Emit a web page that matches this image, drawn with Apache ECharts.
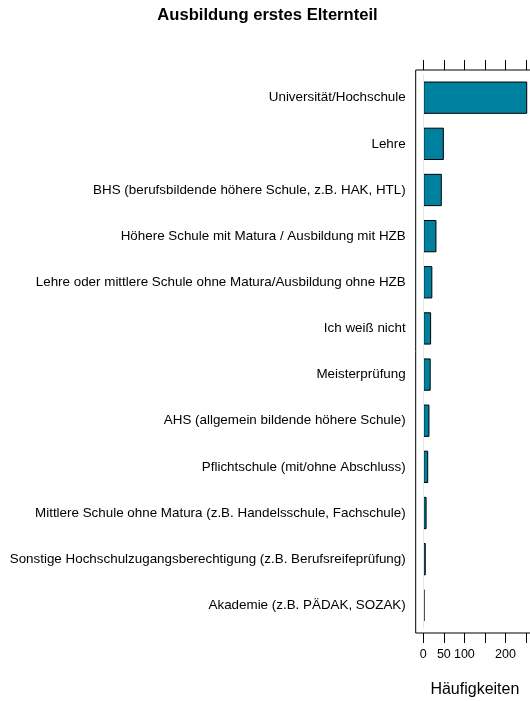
<!DOCTYPE html>
<html>
<head>
<meta charset="utf-8">
<script src="https://cdn.jsdelivr.net/npm/echarts@6/dist/echarts.min.js"></script>
<style>
  html, body { margin: 0; padding: 0; background: #fff; }
  #chart { width: 530px; height: 701px; }
</style>
</head>
<body>
<div id="chart"></div>
<script>
// Categories, top to bottom
const categories = [
  'Universität/Hochschule',
  'Lehre',
  'BHS (berufsbildende höhere Schule, z.B. HAK, HTL)',
  'Höhere Schule mit Matura / Ausbildung mit HZB',
  'Lehre oder mittlere Schule ohne Matura/Ausbildung ohne HZB',
  'Ich weiß nicht',
  'Meisterprüfung',
  'AHS (allgemein bildende höhere Schule)',
  'Pflichtschule (mit/ohne Abschluss)',
  'Mittlere Schule ohne Matura (z.B. Handelsschule, Fachschule)',
  'Sonstige Hochschulzugangsberechtigung (z.B. Berufsreifeprüfung)',
  'Akademie (z.B. PÄDAK, SOZAK)'
];
// Frequencies per category
const counts = [253, 50, 45, 32, 22, 19, 18, 15, 12, 8, 6, 3];
// Axis ticks and labelled ticks
const tickValues = [0, 50, 100, 150, 200, 250];
const tickLabels = [0, 50, 100, 200];

const FONT = '"Liberation Sans", Arial, Helvetica, sans-serif';

// Panel frame
const panelLeft = 415.7, panelTop = 70, panelBottom = 633, panelRight = 534;
const xMin = -18.5, xMax = 269.5;
// Category bands padded by 0.1 band on each end
const band = (panelBottom - panelTop) / (categories.length + 0.2);
const gridTop = panelTop + 0.1 * band;
const gridHeight = categories.length * band;
const pad = 0.1 * band;

const chart = echarts.init(document.getElementById('chart'), null, { renderer: 'canvas' });

chart.setOption({
  animation: false,
  backgroundColor: '#ffffff',
  textStyle: { fontFamily: FONT },
  grid: {
    left: panelLeft,
    top: gridTop,
    width: panelRight - panelLeft,
    height: gridHeight,
    containLabel: false,
    outerBoundsMode: 'none'
  },
  xAxis: [
    {
      type: 'value',
      position: 'bottom',
      min: xMin,
      max: xMax,
      offset: pad,
      axisLine: { show: false },
      splitLine: { show: false },
      axisTick: {
        show: true, inside: false, length: 10,
        customValues: tickValues,
        lineStyle: { color: '#000', width: 1 }
      },
      axisLabel: {
        show: true, margin: 15, color: '#000', fontSize: 12.5, fontFamily: FONT,
        customValues: tickLabels
      },
      name: 'Häufigkeiten',
      nameLocation: 'middle',
      nameGap: 49,
      nameTextStyle: { color: '#000', fontSize: 16, fontFamily: FONT }
    },
    {
      type: 'value',
      position: 'top',
      min: xMin,
      max: xMax,
      offset: pad,
      axisLine: { show: false },
      splitLine: { show: false },
      axisTick: {
        show: true, inside: false, length: 10,
        customValues: tickValues,
        lineStyle: { color: '#000', width: 1 }
      },
      axisLabel: { show: false }
    }
  ],
  yAxis: {
    type: 'category',
    data: categories,
    inverse: true,
    axisLine: { show: false },
    axisTick: { show: false },
    splitLine: { show: false },
    axisLabel: { margin: 10, color: '#000', fontSize: 13.4, fontFamily: FONT }
  },
  series: [
    {
      // reference line at the origin
      type: 'line',
      data: [],
      z: 1,
      markLine: {
        silent: true,
        symbol: 'none',
        label: { show: false },
        lineStyle: { color: '#e6e6e6', width: 1, type: 'solid' },
        data: [{ xAxis: 0 }]
      }
    },
    {
      type: 'bar',
      data: counts,
      z: 2,
      barCategoryGap: '30%',
      itemStyle: { color: '#00809f', borderColor: '#000', borderWidth: 1 }
    }
  ],
  graphic: [
    {
      type: 'text',
      silent: true,
      x: 267.5,
      y: 15,
      style: {
        text: 'Ausbildung erstes Elternteil',
        fontFamily: FONT, fontSize: 16.6, fontWeight: 'bold', fill: '#000',
        textAlign: 'center', textVerticalAlign: 'middle'
      }
    },
    {
      type: 'rect',
      silent: true,
      z: 10,
      shape: { x: panelLeft, y: panelTop, width: panelRight - panelLeft + 10, height: panelBottom - panelTop },
      style: { fill: 'none', stroke: '#000', lineWidth: 1 }
    }
  ]
});
</script>
</body>
</html>
